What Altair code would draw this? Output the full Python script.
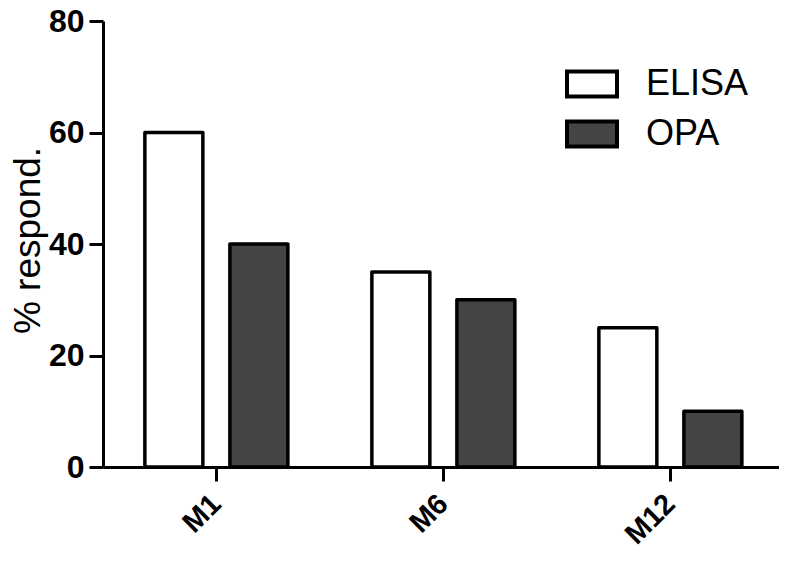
import altair as alt
import pandas as pd

months = ["M1", "M6", "M12"]
assays = ["ELISA", "OPA"]
elisa = [60, 35, 25]
opa = [40, 30, 10]
y_ticks = [0, 20, 40, 60, 80]

rows = []
for m, e, o in zip(months, elisa, opa):
    rows.append({"month": m, "assay": "ELISA", "value": e})
    rows.append({"month": m, "assay": "OPA", "value": o})
df = pd.DataFrame(rows)

FONT = "Liberation Sans"

chart = alt.Chart(df).mark_bar(
    stroke="black", strokeWidth=3.5, strokeJoin="round"
).encode(
    x=alt.X("month:N", sort=months,
            scale=alt.Scale(paddingInner=0.37, paddingOuter=0.174, align=0.53),
            axis=alt.Axis(title=None, labelAngle=-45, labelAlign="right",
                          labelBaseline="middle", labelFont=FONT,
                          labelFontSize=29, labelFontWeight="bold",
                          labelColor="black", labelPadding=18,
                          tickSize=14, tickWidth=3, tickColor="black",
                          domainWidth=3, domainColor="black")),
    xOffset=alt.XOffset("assay:N", sort=assays,
                        scale=alt.Scale(paddingInner=0.318, paddingOuter=0)),
    y=alt.Y("value:Q",
            scale=alt.Scale(domain=[0, 80], nice=False),
            axis=alt.Axis(title="% respond.", values=y_ticks, grid=False,
                          labelFont=FONT, labelFontSize=32,
                          labelFontWeight="bold", labelColor="black",
                          labelPadding=5,
                          tickSize=14, tickWidth=3, tickColor="black",
                          domainWidth=3, domainColor="black",
                          titleFont=FONT, titleFontSize=37,
                          titleFontWeight="normal", titleColor="black",
                          titleX=-64, titleY=219, titleAlign="center",
                          titleBaseline="alphabetic")),
    fill=alt.Fill("assay:N", sort=assays,
                  scale=alt.Scale(domain=assays, range=["#ffffff", "#444444"]),
                  legend=alt.Legend(title=None, orient="none",
                                    legendX=462, legendY=36,
                                    symbolType="M-1,-0.5H1V0.5H-1Z",
                                    symbolSize=2500,
                                    symbolStrokeColor="black",
                                    symbolStrokeWidth=4,
                                    symbolOpacity=1,
                                    labelFont=FONT, labelFontSize=36,
                                    labelColor="black", labelOffset=27,
                                    rowPadding=2, padding=0)),
).properties(
    width=676, height=446,
    autosize=alt.AutoSizeParams(type="none"),
    padding={"left": 95, "top": 13, "right": 0, "bottom": 87},
).configure_view(stroke=None)

chart.save("out.html", embed_options={"renderer": "svg", "actions": False})
